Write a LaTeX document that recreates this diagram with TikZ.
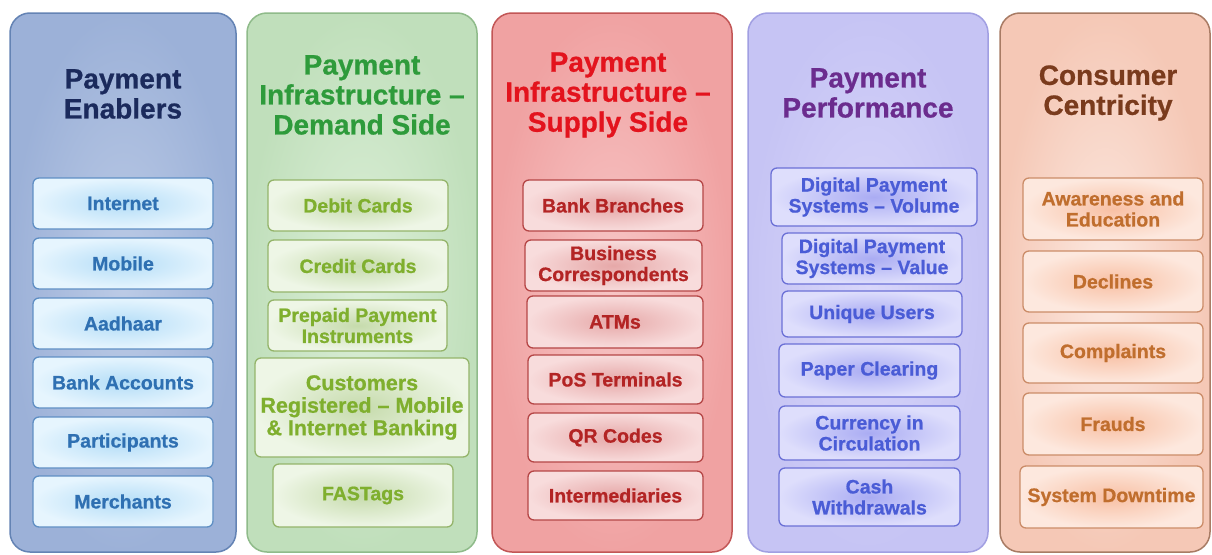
\documentclass[tikz,border=0pt]{standalone}
\usepackage{fontspec}
\setmainfont{Liberation Sans}[BoldFeatures={FakeBold=0.7}]
\definecolor{c1i}{HTML}{BCCBE6}\definecolor{c1o}{HTML}{9CB1D8}\definecolor{c1d}{HTML}{6483B4}
\definecolor{t1}{HTML}{1B2A5C}
\definecolor{b1i}{HTML}{B4DDF7}\definecolor{b1o}{HTML}{E6F5FE}\definecolor{b1d}{HTML}{5F8FC4}\definecolor{b1t}{HTML}{2F70B2}
\definecolor{c2i}{HTML}{DCEFD8}\definecolor{c2o}{HTML}{C0DFBB}\definecolor{c2d}{HTML}{8FBB8A}
\definecolor{t2}{HTML}{2E9B3B}
\definecolor{b2i}{HTML}{C6DBAC}\definecolor{b2o}{HTML}{EEF6E6}\definecolor{b2d}{HTML}{94B46A}\definecolor{b2t}{HTML}{7FAF2E}
\definecolor{c3i}{HTML}{F7C6C6}\definecolor{c3o}{HTML}{F0A2A2}\definecolor{c3d}{HTML}{C25656}
\definecolor{t3}{HTML}{E3131D}
\definecolor{b3i}{HTML}{E6A8A8}\definecolor{b3o}{HTML}{F8DCDC}\definecolor{b3d}{HTML}{B54646}\definecolor{b3t}{HTML}{B32424}
\definecolor{c4i}{HTML}{D8D6FA}\definecolor{c4o}{HTML}{C6C4F4}\definecolor{c4d}{HTML}{A19FE2}
\definecolor{t4}{HTML}{6B2C8E}
\definecolor{b4i}{HTML}{AAACF3}\definecolor{b4o}{HTML}{DEDEFC}\definecolor{b4d}{HTML}{6B70D6}\definecolor{b4t}{HTML}{4A5CD6}
\definecolor{c5i}{HTML}{FCE9E1}\definecolor{c5o}{HTML}{F5C8B6}\definecolor{c5d}{HTML}{A87B64}
\definecolor{t5}{HTML}{7A3B1D}
\definecolor{b5i}{HTML}{F8C0A4}\definecolor{b5o}{HTML}{FDE8DE}\definecolor{b5d}{HTML}{CB8C68}\definecolor{b5t}{HTML}{C06E2E}
\tikzset{
  colbox/.style={rounded corners=20pt, line width=1.5pt, inner sep=0pt, minimum height=539pt},
  ttl/.style={font=\bfseries\fontsize{28}{30}\selectfont, align=center, inner sep=0pt},
  itm/.style={rounded corners=6pt, line width=1.3pt, align=center, inner sep=0pt,
    font=\bfseries\fontsize{19.5}{21}\selectfont},
  k1/.style={itm, draw=b1d, inner color=b1i, outer color=b1o, text=b1t},
  k2/.style={itm, draw=b2d, inner color=b2i, outer color=b2o, text=b2t},
  k3/.style={itm, draw=b3d, inner color=b3i, outer color=b3o, text=b3t},
  k4/.style={itm, draw=b4d, inner color=b4i, outer color=b4o, text=b4t},
  k5/.style={itm, draw=b5d, inner color=b5i, outer color=b5o, text=b5t},
  wh/.style 2 args={minimum width=#1pt, minimum height=#2pt}
}
\begin{document}
\begin{tikzpicture}[x=1pt,y=-1pt]
\useasboundingbox[fill=white] (0,0) rectangle (1212,554);
% columns
\node[colbox, draw=c1d, inner color=c1i, outer color=c1o, minimum width=226pt] (col1) at (123,282.5) {};
\node[colbox, draw=c2d, inner color=c2i, outer color=c2o, minimum width=230pt] (col2) at (362,282.5) {};
\node[colbox, draw=c3d, inner color=c3i, outer color=c3o, minimum width=240pt] (col3) at (612,282.5) {};
\node[colbox, draw=c4d, inner color=c4i, outer color=c4o, minimum width=240pt] (col4) at (868,282.5) {};
\node[colbox, draw=c5d, inner color=c5i, outer color=c5o, minimum width=210pt] (col5) at (1105,282.5) {};
% titles
\node[ttl, text=t1] (h1) at (123,94) {Payment\\Enablers};
\node[ttl, text=t2] (h2) at (362,95) {Payment\\Infrastructure –\\Demand Side};
\node[ttl, text=t3] (h3) at (608,95) {Payment\\Infrastructure –\\Supply Side};
\node[ttl, text=t4] (h4) at (868,93) {Payment\\Performance};
\node[ttl, text=t5] (h5) at (1108,93) {Consumer\\Centricity};
% column 1
\node[k1, wh={180}{51}] (a1) at (123,203.5) {Internet};
\node[k1, wh={180}{51}] (a2) at (123,263.5) {Mobile};
\node[k1, wh={180}{51}] (a3) at (123,323.5) {Aadhaar};
\node[k1, wh={180}{51}] (a4) at (123,382.5) {Bank Accounts};
\node[k1, wh={180}{51}] (a5) at (123,442.5) {Participants};
\node[k1, wh={180}{51}] (a6) at (123,501.5) {Merchants};
% column 2
\node[k2, wh={180}{51}] (d1) at (358,205.5) {Debit Cards};
\node[k2, wh={180}{52}] (d2) at (358,266) {Credit Cards};
\node[k2, wh={179}{51}] (d3) at (357.5,325.5) {Prepaid Payment\\Instruments};
\node[k2, wh={214}{99}, font=\bfseries\fontsize{21.5}{22.5}\selectfont] (d4) at (362,407.5) {Customers\\Registered – Mobile\\\& Internet Banking};
\node[k2, wh={180}{63}] (d5) at (363,495.5) {FASTags};
% column 3
\node[k3, wh={180}{51}] (s1) at (613,205.5) {Bank Branches};
\node[k3, wh={177}{51}] (s2) at (613.5,265.5) {Business\\Correspondents};
\node[k3, wh={176}{52}] (s3) at (615,322) {ATMs};
\node[k3, wh={175}{49}] (s4) at (615.5,379.5) {PoS Terminals};
\node[k3, wh={175}{49}] (s5) at (615.5,437.5) {QR Codes};
\node[k3, wh={175}{49}] (s6) at (615.5,495.5) {Intermediaries};
% column 4
\node[k4, wh={206}{58}] (p1) at (874,197) {Digital Payment\\Systems – Volume};
\node[k4, wh={180}{51}] (p2) at (872,258.5) {Digital Payment\\Systems – Value};
\node[k4, wh={180}{46}] (p3) at (872,314) {Unique Users};
\node[k4, wh={181}{53}] (p4) at (869.5,370.5) {Paper Clearing};
\node[k4, wh={181}{54}] (p5) at (869.5,433) {Currency in\\Circulation};
\node[k4, wh={181}{58}] (p6) at (869.5,497) {Cash\\Withdrawals};
% column 5
\node[k5, wh={180}{62}] (e1) at (1113,209) {Awareness and\\Education};
\node[k5, wh={180}{61}] (e2) at (1113,281.5) {Declines};
\node[k5, wh={180}{60}] (e3) at (1113,353) {Complaints};
\node[k5, wh={180}{62}] (e4) at (1113,424) {Frauds};
\node[k5, wh={183}{62}] (e5) at (1111.5,497) {System Downtime};
\end{tikzpicture}
\end{document}
